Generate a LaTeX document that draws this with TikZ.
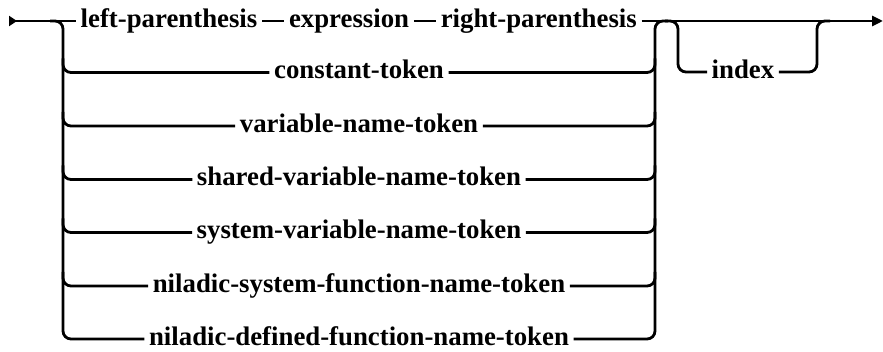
\documentclass[tikz,border=0pt]{standalone}
\usepackage{fontspec}
\newfontfamily\lblfont{Liberation Serif}
\usetikzlibrary{arrows.meta}
\begin{document}
\begin{tikzpicture}[x=1pt,y=-1pt,
  rail/.style={line width=2.8pt, rounded corners=8pt},
  lbl/.style={font=\lblfont\bfseries\fontsize{26.8}{30}\selectfont, inner xsep=4.5pt, inner ysep=0pt, anchor=base},
  up/.style={yshift=6.3pt}
]
\useasboundingbox (0,0) rectangle (883,352);
% row 1
\node[lbl, anchor=base west] (lp) at (76,27.3) {left-parenthesis};
\node[lbl, anchor=base east] (rp) at (641.5,27.3) {right-parenthesis};
\path (lp.base east) -- (rp.base west) node[midway, lbl] (ex) {expression};
% rows 2-7
\node[lbl] (r2) at (359,78.8) {constant-token};
\node[lbl] (r3) at (359,132.3) {variable-name-token};
\node[lbl] (r4) at (359,185.8) {shared-variable-name-token};
\node[lbl] (r5) at (359,238.8) {system-variable-name-token};
\node[lbl] (r6) at (359,292.3) {niladic-system-function-name-token};
\node[lbl] (r7) at (359,345.3) {niladic-defined-function-name-token};
\node[lbl] (idx) at (743,78.3) {index};
\coordinate (start) at (9,21);
\coordinate (end) at (883,21);
% main line
\draw[rail, {Triangle[reversed,length=8pt,width=10pt]}-] (start) -- ([up]lp.base west);
\draw[rail] ([up]lp.base east) -- ([up]ex.base west);
\draw[rail] ([up]ex.base east) -- ([up]rp.base west);
\draw[rail, -{Triangle[length=11pt,width=10pt]}] ([up]rp.base east) -- (end);
% left rail
\draw[rail] (50,21) -- (63,21) -- (63,339) -- ([up]r7.base west);
\foreach \n/\y in {r2/72.5,r3/126,r4/179.5,r5/232.5,r6/286}{
  \draw[rail] (63,\y-14) -- (63,\y) -- ([up]\n.base west);
  \draw[rail] ([up]\n.base east) -- (655,\y) -- (655,\y-14);
}
% right rail
\draw[rail] ([up]r7.base east) -- (655,339) -- (655,21) -- (668,21);
% index loop
\draw[rail] (665,21) -- (678,21) -- (678,72) -- ([up]idx.base west);
\draw[rail] ([up]idx.base east) -- (817,72) -- (817,21) -- (830,21);
\end{tikzpicture}
\end{document}
